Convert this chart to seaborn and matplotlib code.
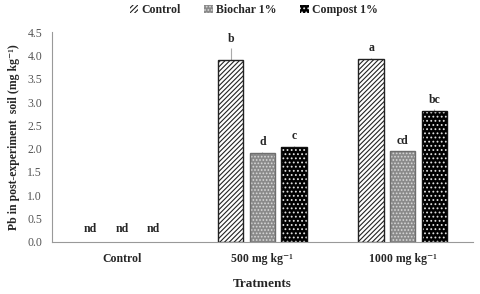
import pandas as pd
import matplotlib
matplotlib.use("Agg")
import matplotlib.pyplot as plt
import seaborn as sns

# Data
groups = ["Control", "500 mg kg⁻¹", "1000 mg kg⁻¹"]
series = ["Control", "Biochar 1%", "Compost 1%"]
control = [0.0, 3.90, 3.93]
biochar = [0.0, 1.91, 1.94]
compost = [0.0, 2.03, 2.80]
control_err = [0.0, 0.25, 0.02]
biochar_err = [0.0, 0.02, 0.02]
compost_err = [0.0, 0.03, 0.04]
control_let = ["nd", "b", "a"]
biochar_let = ["nd", "d", "cd"]
compost_let = ["nd", "c", "bc"]

df = pd.DataFrame({
    "Group": groups * 3,
    "Amendment": [s for s in series for _ in groups],
    "Pb": control + biochar + compost,
})
errs = [control_err, biochar_err, compost_err]
lets = [control_let, biochar_let, compost_let]

sns.set_theme(style="white")
plt.rcParams["font.family"] = ["Liberation Serif", "DejaVu Serif"]
plt.rcParams["mathtext.fontset"] = "stix"
plt.rcParams["hatch.linewidth"] = 0.8

fig = plt.figure(figsize=(4.8, 2.94), dpi=100)
ax = fig.add_axes([0.108, 0.177, 0.877, 0.714])

sns.barplot(
    data=df, x="Group", y="Pb", hue="Amendment",
    width=0.675, gap=0.2, errorbar=None, ax=ax,
)

faces = ["white", "#8a8a8a", "black"]
hatch_cols = ["#222222", "#d8d8d8", "#e0e0e0"]
hatches = ["///////", ".....", "...."]
outline = ["#222222", "#6e6e6e", "#111111"]

bar_groups = list(ax.containers)
for i, cont in enumerate(bar_groups):
    for j, bar in enumerate(cont):
        bar.set_facecolor(faces[i])
        bar.set_hatch(hatches[i])
        bar.set_linewidth(0)
        bar.set_edgecolor(hatch_cols[i])
        if hasattr(bar, "set_hatchcolor"):
            bar.set_hatchcolor(hatch_cols[i])
            bar.set_edgecolor(outline[i])
            bar.set_linewidth(1.0)
        elif bar.get_height() > 0:
            ax.add_patch(plt.Rectangle(
                (bar.get_x(), 0), bar.get_width(), bar.get_height(),
                fill=False, edgecolor=outline[i], linewidth=1.0, zorder=3,
            ))
        xc = bar.get_x() + bar.get_width() / 2
        h = bar.get_height()
        e = errs[i][j]
        if h > 0:
            ax.errorbar(xc, h, yerr=[[0], [e]], color="#aaaaaa",
                        elinewidth=0.8, capsize=0, zorder=2)
            ax.text(xc, h + e + 0.08, lets[i][j], ha="center", va="bottom",
                    fontsize=8.5, fontweight="bold")
        else:
            ax.text(xc, 0.15, lets[i][j], ha="center", va="bottom",
                    fontsize=8.5, fontweight="bold")

ax.set_xlim(-0.5, 2.5)
ax.set_ylim(0, 4.5)
ax.set_yticks([0, 0.5, 1, 1.5, 2, 2.5, 3, 3.5, 4, 4.5])
ax.set_yticklabels([f"{v:.1f}" for v in ax.get_yticks()], fontsize=8.5, color="#555555")
ax.tick_params(axis="both", length=0)
ax.tick_params(axis="x", labelsize=8.5, pad=8)
for t in ax.get_xticklabels():
    t.set_fontweight("bold")
ax.tick_params(axis="y", pad=7)

sns.despine(ax=ax)
ax.spines["left"].set_color("#999999")
ax.spines["bottom"].set_color("#999999")
ax.spines["left"].set_linewidth(0.8)
ax.spines["bottom"].set_linewidth(0.8)

ax.set_xlabel("Tratments", fontsize=9.5, fontweight="bold", labelpad=9)
ax.set_ylabel("Pb in post-experiment  soil (mg kg⁻¹)",
              fontsize=8.5, fontweight="bold", labelpad=5)

ax.legend(
    handles=[c.patches[1] for c in bar_groups], labels=series,
    loc="upper center", bbox_to_anchor=(0.48, 1.185), ncol=3, frameon=False,
    prop={"weight": "bold", "size": 8.5}, handlelength=0.7, handleheight=0.7,
    handletextpad=0.3, columnspacing=2.0,
)

plt.savefig("out.png", dpi=100)
